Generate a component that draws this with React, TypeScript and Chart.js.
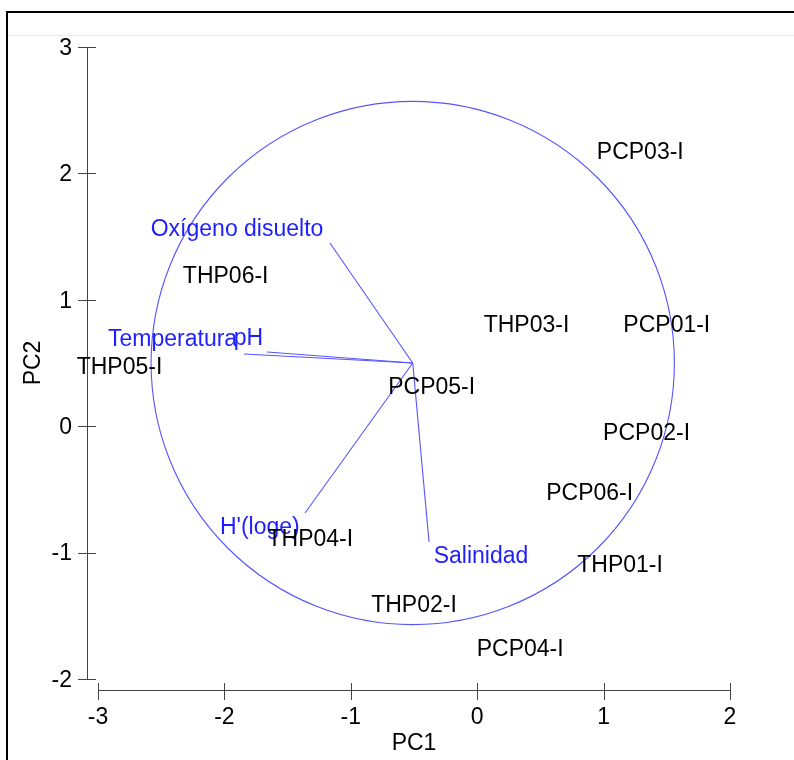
import React, { useEffect, useRef } from 'react';
import { Chart, registerables } from 'chart.js';

Chart.register(...registerables);

// Sample scores (PC1, PC2)
const sampleNames = ['PCP03-I', 'THP06-I', 'THP03-I', 'PCP01-I', 'THP05-I', 'PCP05-I', 'PCP02-I', 'PCP06-I', 'THP04-I', 'THP01-I', 'THP02-I', 'PCP04-I'];
const samplePC1 = [1.29, -1.99, 0.39, 1.50, -2.83, -0.36, 1.34, 0.89, -1.32, 1.13, -0.50, 0.34];
const samplePC2 = [2.18, 1.20, 0.81, 0.81, 0.48, 0.32, -0.04, -0.52, -0.88, -1.09, -1.40, -1.75];

// Variable loadings (vector end points) and their label anchors
const variableNames = ['Oxígeno disuelto', 'pH', 'Temperatura', "H'(loge)", 'Salinidad'];
const variableEndX = [-1.165, -1.663, -1.845, -1.362, -0.381];
const variableEndY = [1.449, 0.587, 0.571, -0.687, -0.916];
const variableLabelX = [-1.90, -1.81, -2.41, -1.72, 0.03];
const variableLabelY = [1.57, 0.71, 0.70, -0.79, -1.02];

// Origin of the vectors and correlation circle
const vectorOrigin = { x: -0.51, y: 0.50 };
const circleRadius = 2.07;

// Axes
const xTicks = [-3, -2, -1, 0, 1, 2];
const yTicks = [-2, -1, 0, 1, 2, 3];
const xTitle = 'PC1';
const yTitle = 'PC2';

const FONT = "'Liberation Sans', Arial, sans-serif";
const BLUE_LINE = 'rgb(85,85,255)';
const BLUE_TEXT = 'rgb(30,30,255)';
const AXIS_COLOR = '#444';
const TEXT_SHIFT = 2;

const biplotPlugin = {
  id: 'biplot',
  beforeDatasetsDraw(chart: any) {
    const { ctx } = chart;
    const xs = chart.scales.x;
    const ys = chart.scales.y;
    const cx = xs.getPixelForValue(vectorOrigin.x);
    const cy = ys.getPixelForValue(vectorOrigin.y);
    const r = xs.getPixelForValue(vectorOrigin.x + circleRadius) - cx;
    ctx.save();
    ctx.strokeStyle = BLUE_LINE;
    ctx.lineWidth = 1.1;
    ctx.beginPath();
    ctx.arc(cx, cy, r, 0, Math.PI * 2);
    ctx.stroke();
    ctx.restore();
  },
  afterDraw(chart: any) {
    const { ctx, chartArea } = chart;
    const xs = chart.scales.x;
    const ys = chart.scales.y;
    ctx.save();
    ctx.strokeStyle = AXIS_COLOR;
    ctx.lineWidth = 1;
    // y axis
    const axX = Math.round(chartArea.left - 11) + 0.5;
    ctx.beginPath();
    ctx.moveTo(axX, ys.getPixelForValue(yTicks[yTicks.length - 1]));
    ctx.lineTo(axX, ys.getPixelForValue(yTicks[0]));
    ctx.stroke();
    yTicks.forEach((v) => {
      const py = Math.round(ys.getPixelForValue(v)) + 0.5;
      ctx.beginPath();
      ctx.moveTo(chartArea.left - 20, py);
      ctx.lineTo(chartArea.left - 2, py);
      ctx.stroke();
    });
    // x axis
    const axY = Math.round(chartArea.bottom + 11) + 0.5;
    ctx.beginPath();
    ctx.moveTo(xs.getPixelForValue(xTicks[0]), axY);
    ctx.lineTo(xs.getPixelForValue(xTicks[xTicks.length - 1]), axY);
    ctx.stroke();
    xTicks.forEach((v) => {
      const px = Math.round(xs.getPixelForValue(v)) + 0.5;
      ctx.beginPath();
      ctx.moveTo(px, chartArea.bottom + 4);
      ctx.lineTo(px, chartArea.bottom + 21);
      ctx.stroke();
    });

    // labels
    ctx.font = `23px ${FONT}`;
    ctx.textAlign = 'center';
    ctx.textBaseline = 'middle';
    ctx.fillStyle = BLUE_TEXT;
    variableNames.forEach((name, i) => {
      ctx.fillText(name, xs.getPixelForValue(variableLabelX[i]), ys.getPixelForValue(variableLabelY[i]) + TEXT_SHIFT);
    });
    ctx.fillStyle = '#000';
    const meta = chart.getDatasetMeta(0);
    sampleNames.forEach((name, i) => {
      const el = meta.data[i];
      ctx.fillText(name, el.x, el.y + TEXT_SHIFT);
    });
    ctx.restore();
  },
};

export default function App() {
  const canvasRef = useRef<HTMLCanvasElement | null>(null);

  useEffect(() => {
    if (!canvasRef.current) return;
    const vectorDatasets = variableNames.map((name, i) => ({
      label: name,
      data: [
        { x: vectorOrigin.x, y: vectorOrigin.y },
        { x: variableEndX[i], y: variableEndY[i] },
      ],
      showLine: true,
      borderColor: BLUE_LINE,
      borderWidth: 1.1,
      pointRadius: 0,
      fill: false,
    }));
    const chart = new Chart(canvasRef.current, {
      type: 'scatter',
      data: {
        datasets: [
          {
            label: 'Samples',
            data: sampleNames.map((_, i) => ({ x: samplePC1[i], y: samplePC2[i] })),
            pointRadius: 0,
            pointHoverRadius: 0,
          } as any,
          ...vectorDatasets,
        ],
      },
      options: {
        responsive: false,
        animation: false,
        events: [],
        layout: { padding: { left: 0, top: 47, right: 64, bottom: 0 } },
        plugins: {
          legend: { display: false },
          tooltip: { enabled: false },
          title: { display: false },
        },
        scales: {
          x: {
            type: 'linear',
            min: xTicks[0],
            max: xTicks[xTicks.length - 1],
            afterBuildTicks: (s: any) => {
              s.ticks = xTicks.map((v) => ({ value: v }));
            },
            afterFit: (s: any) => {
              s.height = 81;
            },
            grid: { display: false, drawTicks: false },
            border: { display: false },
            ticks: {
              padding: 25,
              color: '#000',
              font: { family: FONT, size: 23 },
              maxRotation: 0,
              autoSkip: false,
            },
            title: {
              display: true,
              text: xTitle,
              color: '#000',
              font: { family: FONT, size: 23 },
              padding: { top: 0, bottom: 3 },
            },
          },
          y: {
            type: 'linear',
            min: yTicks[0],
            max: yTicks[yTicks.length - 1],
            afterBuildTicks: (s: any) => {
              s.ticks = yTicks.map((v) => ({ value: v }));
            },
            afterFit: (s: any) => {
              s.width = 98;
            },
            grid: { display: false, drawTicks: false },
            border: { display: false },
            ticks: {
              padding: 26,
              labelOffset: 1.5,
              color: '#000',
              font: { family: FONT, size: 23 },
              autoSkip: false,
            },
            title: {
              display: true,
              text: yTitle,
              color: '#000',
              font: { family: FONT, size: 23 },
              padding: { top: 20, bottom: 0 },
            },
          },
        },
      },
      plugins: [biplotPlugin],
    });
    return () => chart.destroy();
  }, []);

  return (
    <div style={{ position: 'absolute', left: 0, top: 0, width: 794, height: 760, background: '#fff', overflow: 'hidden' }}>
      <canvas ref={canvasRef} width={794} height={760} style={{ position: 'absolute', left: 0, top: 0 }} />
      <div style={{ position: 'absolute', left: 6, top: 11, width: 788, height: 2, background: '#000' }} />
      <div style={{ position: 'absolute', left: 6, top: 11, width: 2, height: 749, background: '#000' }} />
      <div style={{ position: 'absolute', left: 8, top: 35, width: 786, height: 1, background: '#ececec' }} />
    </div>
  );
}
